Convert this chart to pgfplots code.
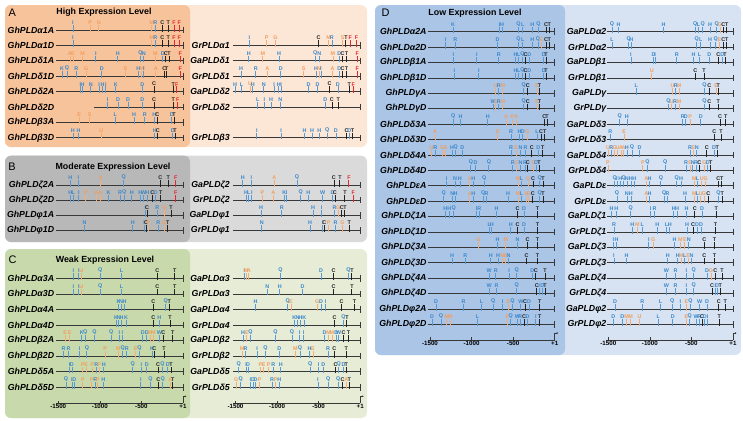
\documentclass[border=0pt]{standalone}
\usepackage{fontspec}
\setmainfont{Liberation Sans}
\usepackage{pgfplots}
\usepackage{pgfplotstable}
\pgfplotsset{compat=1.18}
\usetikzlibrary{arrows.meta}

\definecolor{blu}{HTML}{3A88CC}
\definecolor{orng}{HTML}{F29E5E}
\definecolor{blk}{HTML}{222222}
\definecolor{rd}{HTML}{E8262B}
\definecolor{Ad}{HTML}{F7C39B}\definecolor{Al}{HTML}{FCE6D5}
\definecolor{Bd}{HTML}{B8B8B8}\definecolor{Bl}{HTML}{DADADA}
\definecolor{Cd}{HTML}{C8DAAC}\definecolor{Cl}{HTML}{E6ECD6}
\definecolor{Dd}{HTML}{ABC5E6}\definecolor{Dl}{HTML}{D7E3F2}
\colorlet{lcA}{orng}\colorlet{lcB}{blu}\colorlet{lcC}{blk}\colorlet{lcD}{blu}\colorlet{lcE}{orng}
\colorlet{lcF}{rd}\colorlet{lcG}{orng}\colorlet{lcH}{blu}\colorlet{lcI}{blu}\colorlet{lcJ}{blu}
\colorlet{lcK}{blu}\colorlet{lcL}{blu}\colorlet{lcM}{orng}\colorlet{lcN}{blu}\colorlet{lcO}{blu}
\colorlet{lcP}{orng}\colorlet{lcQ}{blu}\colorlet{lcR}{blu}\colorlet{lcS}{orng}\colorlet{lcT}{blk}
\colorlet{lcU}{orng}\colorlet{lcV}{blu}\colorlet{lcW}{blu}\colorlet{lcX}{blu}\colorlet{lcY}{blu}\colorlet{lcZ}{blu}

\newcommand\glab{\fontsize{8.8}{9}\selectfont\bfseries\itshape}
\newcommand\ttl{\fontsize{8.9}{9}\selectfont\bfseries}
\newcommand\plab{\fontsize{11}{11}\selectfont}
\newcommand\tkfont{\fontsize{6.2}{6.2}\selectfont\bfseries}
\newcommand\elmfont{\fontsize{5.4}{5.4}\selectfont\bfseries}

\pgfdeclareplotmark{elm}{%
  \pgfsetlinewidth{0.85bp}%
  \pgfpathmoveto{\pgfpoint{0pt}{-1.6bp}}%
  \pgfpathlineto{\pgfpoint{0pt}{5.2bp}}%
  \pgfusepathqstroke
  \pgftext[bottom,at={\pgfpoint{0pt}{5.6bp}}]{\elmfont\color{lc\pgfplotspointmeta}\pgfplotspointmeta}%
}

\pgfplotsset{
  rowax/.style={scale only axis, width=124.7bp, xmin=-1500, xmax=0, y dir=reverse, clip=false,
    hide x axis, axis y line*=left, y axis line style={draw=none}, ytick style={draw=none},
    major tick length=0pt, yticklabel style={font=\glab, inner sep=0pt, anchor=east, xshift=-4bp},
    anchor=north west},
  gline/.style={black!78, line width=0.7bp, mark=none},
  gend/.style={only marks, mark=|, mark size=3.3bp, black!78, mark options={line width=0.7bp}},
  elms/.style={scatter, only marks, mark=elm, point meta=explicit symbolic,
    scatter/classes={A={orng!85},B={blu!85},C={blk},D={blu!85},E={orng!85},F={rd},G={orng!85},H={blu!85},I={blu!85},J={blu!85},K={blu!85},L={blu!85},M={orng!85},N={blu!85},O={blu!85},P={orng!85},Q={blu!85},R={blu!85},S={orng!85},T={blk},U={orng!85},V={blu!85},W={blu!85},X={blu!85},Y={blu!85},Z={blu!85}}},
  scaleax/.style={scale only axis, width=126.78bp, height=8bp, xmin=-1525, xmax=0, ymin=0, ymax=1,
    anchor=south west, clip=false, axis x line*=bottom, axis y line=none,
    x axis line style={-, black!78, line width=0.7bp},
    xtick={-1500,-1000,-500,0}, xticklabels={-1500,-1000,-500,+1}, tick align=inside,
    major tick length=2.8bp, xtick style={black!78, line width=0.55bp},
    xticklabel style={font=\tkfont, inner sep=0.8bp, text=black}},
}
\newcommand\gl[2]{\addplot[gline] coordinates {(#1,#2) (0,#2)};}
\newcommand\arr{\draw[black!78, line width=0.6bp, -{Stealth[length=1.6bp,width=1.8bp]}] (axis cs:0,0) -- ++(0bp,7bp) -- ++(3.5bp,0bp);}

% ---------------- data ----------------
\pgfplotstableread[row sep=\\]{x y l\\
-1324 1 I\\ -1116 1 P\\ -1012 1 G\\ -376 1 M\\ -332 1 R\\ -248 1 C\\ -176 1 T\\ -108 1 F\\ -44 1 F\\
-1324 2 I\\ -376 2 M\\ -332 2 R\\ -248 2 C\\ -176 2 T\\ -108 2 F\\ -44 2 F\\
-1360 3 A\\ -1324 3 E\\ -1208 3 M\\ -1048 3 I\\ -784 3 H\\ -512 3 Q\\ -472 3 N\\ -332 3 M\\ -244 3 D\\ -208 3 C\\ -168 3 T\\ -32 3 F\\
-1456 4 K\\ -1396 4 Q\\ -1284 4 R\\ -1164 4 G\\ -976 4 D\\ -692 4 S\\ -536 4 H\\ -496 4 M\\ -472 4 I\\ -328 4 A\\ -224 4 C\\ -196 4 T\\ -32 4 F\\
-1236 5 I\\ -1208 5 H\\ -1108 5 N\\ -1008 5 I\\ -968 5 H\\ -928 5 I\\ -808 5 K\\ -488 5 D\\ -348 5 C\\ -116 5 T\\ -76 5 F\\
-908 6 I\\ -780 6 D\\ -660 6 D\\ -488 6 D\\ -348 6 C\\ -116 6 T\\ -64 6 F\\
-1248 7 E\\ -1124 7 S\\ -816 7 L\\ -588 7 H\\ -460 7 R\\ -344 7 H\\ -308 7 C\\ -136 7 D\\ -108 7 T\\
-1324 8 H\\ -1256 8 H\\ -984 8 U\\ -340 8 H\\ -304 8 C\\ -124 8 D\\ -96 8 T\\
}\tAL
\pgfplotstableread[row sep=\\]{x y l\\
-1332 2 I\\ -1124 2 P\\ -1020 2 G\\ -500 2 C\\ -380 2 M\\ -340 2 R\\ -212 2 S\\ -172 2 T\\ -120 2 F\\ -44 2 F\\
-1340 3 H\\ -1172 3 M\\ -976 3 H\\ -540 3 Q\\ -492 3 N\\ -328 3 M\\ -252 3 D\\ -212 3 C\\ -164 3 T\\ -36 3 F\\
-1432 4 H\\ -1256 4 R\\ -1116 4 A\\ -956 4 D\\ -680 4 S\\ -532 4 H\\ -492 4 M\\ -472 4 I\\ -332 4 A\\ -252 4 D\\ -212 4 C\\ -164 4 T\\ -36 4 F\\
-1504 5 H\\ -1428 5 L\\ -1324 5 U\\ -1292 5 H\\ -1160 5 N\\ -1036 5 I\\ -980 5 H\\ -952 5 I\\ -620 5 D\\ -512 5 D\\ -368 5 C\\ -268 5 D\\ -132 5 T\\ -84 5 F\\
-1232 6 L\\ -1152 6 I\\ -1072 6 H\\ -960 6 N\\ -420 6 D\\ -340 6 C\\ -264 6 T\\
-1244 8 I\\ -952 8 I\\ -668 8 H\\ -580 8 H\\ -492 8 H\\ -396 8 Q\\ -292 8 D\\ -164 8 C\\ -132 8 D\\ -92 8 T\\
}\tAR
\pgfplotstableread[row sep=\\]{x y l\\
-1356 1 H\\ -1260 1 I\\ -988 1 A\\ -712 1 Q\\ -272 1 C\\ -176 1 T\\ -88 1 F\\
-1356 2 H\\ -1320 2 L\\ -1252 2 I\\ -1172 2 P\\ -1044 2 A\\ -996 2 A\\ -896 2 K\\ -756 2 R\\ -708 2 Q\\ -616 2 H\\ -512 2 H\\ -472 2 W\\ -428 2 H\\ -368 2 C\\ -328 2 D\\ -268 2 T\\ -88 2 F\\
-452 3 I\\ -432 3 C\\ -308 3 R\\ -220 3 G\\ -144 3 T\\
-1184 4 N\\ -604 4 H\\ -468 4 I\\ -444 4 C\\ -412 4 P\\ -296 4 R\\ -228 4 G\\ -184 4 T\\
}\tBL
\pgfplotstableread[row sep=\\]{x y l\\
-1412 1 H\\ -1308 1 I\\ -1032 1 A\\ -760 1 Q\\ -316 1 C\\ -244 1 T\\ -136 1 F\\
-1372 2 H\\ -1340 2 L\\ -1304 2 I\\ -1176 2 P\\ -1044 2 A\\ -912 2 K\\ -884 2 I\\ -716 2 Q\\ -624 2 H\\ -452 2 W\\ -332 2 D\\ -304 2 C\\ -184 2 T\\ -84 2 F\\
-1192 3 H\\ -944 3 R\\ -568 3 H\\ -464 3 I\\ -308 3 R\\ -264 3 G\\ -220 3 C\\ -184 3 T\\
-1184 4 N\\ -604 4 H\\ -452 4 I\\ -432 4 C\\ -380 4 P\\ -296 4 R\\ -212 4 G\\ -132 4 T\\
}\tBR
\pgfplotstableread[row sep=\\]{x y l\\
-1320 1 I\\ -1252 1 I\\ -1224 1 U\\ -996 1 Q\\ -740 1 L\\ -308 1 C\\ -100 1 T\\
-1320 2 I\\ -1252 2 I\\ -1224 2 U\\ -996 2 Q\\ -740 2 L\\ -308 2 C\\ -100 2 T\\
-776 3 K\\ -744 3 N\\ -704 3 H\\ -356 3 C\\ -208 3 Q\\ -164 3 T\\
-804 4 K\\ -772 4 N\\ -740 4 H\\ -684 4 K\\ -356 4 C\\ -284 4 H\\ -156 4 T\\
-1416 5 E\\ -1364 5 E\\ -1216 5 K\\ -1176 5 Q\\ -1064 5 Q\\ -864 5 Q\\ -764 5 I\\ -728 5 I\\ -484 5 D\\ -436 5 D\\ -396 5 M\\ -356 5 M\\ -284 5 W\\ -236 5 C\\ -124 5 T\\
-1436 6 R\\ -1376 6 R\\ -1244 6 I\\ -1156 6 Q\\ -936 6 P\\ -776 6 M\\ -724 6 Q\\ -676 6 R\\ -568 6 E\\ -524 6 Q\\ -372 6 K\\ -344 6 C\\ -228 6 T\\
-1364 7 I\\ -1336 7 D\\ -1208 7 P\\ -1164 7 E\\ -1092 7 P\\ -1044 7 R\\ -1008 7 P\\ -952 7 H\\ -604 7 Q\\ -500 7 I\\ -436 7 D\\ -300 7 C\\ -248 7 Q\\ -184 7 D\\ -144 7 T\\
-1408 8 Q\\ -1336 8 I\\ -1308 8 D\\ -1204 8 P\\ -1096 8 P\\ -1056 8 R\\ -1024 8 P\\ -960 8 H\\ -508 8 I\\ -392 8 Q\\ -296 8 C\\ -244 8 Q\\ -152 8 A\\ -124 8 T\\
}\tCL
\pgfplotstableread[row sep=\\]{x y l\\
-1392 1 I\\ -1372 1 M\\ -1340 1 A\\ -960 1 Q\\ -472 1 D\\ -320 1 C\\ -140 1 Q\\ -100 1 T\\
-1116 2 N\\ -968 2 H\\ -692 2 D\\ -320 2 C\\ -100 2 T\\
-1260 3 H\\ -872 3 Q\\ -832 3 E\\ -516 3 G\\ -472 3 D\\ -416 3 I\\ -224 3 C\\ -68 3 T\\
-792 4 K\\ -752 4 N\\ -716 4 H\\ -672 4 K\\ -308 4 C\\ -200 4 Q\\ -160 4 T\\
-1408 5 H\\ -1364 5 E\\ -1320 5 Q\\ -1020 5 Q\\ -820 5 Q\\ -728 5 I\\ -680 5 I\\ -428 5 D\\ -380 5 M\\ -340 5 M\\ -288 5 D\\ -260 5 W\\ -200 5 C\\ -140 5 T\\
-1420 6 M\\ -1380 6 R\\ -1240 6 I\\ -1140 6 Q\\ -972 6 D\\ -780 6 M\\ -724 6 Q\\ -608 6 H\\ -568 6 E\\ -388 6 R\\ -312 6 C\\ -168 6 T\\
-1460 7 Q\\ -1372 7 I\\ -1348 7 D\\ -1200 7 P\\ -1160 7 E\\ -1100 7 P\\ -1044 7 R\\ -956 7 H\\ -600 7 Q\\ -500 7 I\\ -444 7 D\\ -296 7 C\\ -260 7 Q\\ -200 7 D\\ -168 7 T\\
-1492 8 G\\ -1436 8 Q\\ -1320 8 I\\ -1288 8 D\\ -1260 8 D\\ -1208 8 P\\ -1060 8 R\\ -1016 8 P\\ -972 8 H\\ -508 8 I\\ -384 8 Q\\ -264 8 Q\\ -212 8 C\\ -168 8 A\\ -132 8 T\\
}\tCR
\pgfplotstableread[row sep=\\]{x y l\\
-1224 1 K\\ -664 1 I\\ -632 1 H\\ -436 1 Q\\ -384 1 L\\ -268 1 H\\ -196 1 Q\\ -104 1 C\\ -64 1 T\\
-1312 2 I\\ -1196 2 R\\ -688 2 D\\ -436 2 Q\\ -384 2 L\\ -268 2 H\\ -200 2 Q\\ -164 2 E\\ -104 2 C\\ -64 2 T\\
-1220 3 I\\ -936 3 I\\ -672 3 R\\ -472 3 H\\ -432 3 L\\ -388 3 Q\\ -352 3 C\\ -304 3 D\\ -132 3 D\\ -104 3 T\\
-1208 4 I\\ -912 4 I\\ -472 4 H\\ -432 4 L\\ -388 4 Q\\ -352 4 C\\ -304 4 D\\ -132 4 D\\ -104 4 T\\
-712 5 U\\ -672 5 R\\ -624 5 M\\ -372 5 Q\\ -324 5 C\\ -212 5 E\\ -184 5 T\\
-740 6 W\\ -708 6 U\\ -672 6 R\\ -624 6 M\\ -372 6 Q\\ -324 6 C\\ -212 6 E\\ -184 6 T\\
-1220 7 Q\\ -1132 7 H\\ -804 7 H\\ -584 7 A\\ -512 7 P\\ -464 7 A\\ -124 7 C\\ -92 7 T\\
-1440 8 A\\ -684 8 E\\ -524 8 R\\ -424 8 H\\ -384 8 D\\ -332 8 G\\ -212 8 L\\ -164 8 C\\ -120 8 T\\
-1480 9 U\\ -1436 9 R\\ -1352 9 G\\ -1312 9 A\\ -1236 9 H\\ -1192 9 Q\\ -1112 9 D\\ -524 9 R\\ -464 9 E\\ -412 9 N\\ -352 9 R\\ -276 9 C\\ -196 9 D\\ -144 9 T\\
-1008 10 Q\\ -952 10 D\\ -792 10 Q\\ -504 10 R\\ -456 10 E\\ -412 10 N\\ -356 10 R\\ -324 10 C\\ -256 10 G\\ -224 10 D\\ -188 10 T\\
-1300 11 I\\ -1200 11 N\\ -1140 11 H\\ -1020 11 A\\ -980 11 H\\ -848 11 Q\\ -440 11 M\\ -400 11 L\\ -320 11 U\\ -260 11 C\\ -180 11 Q\\ -140 11 T\\
-1336 12 Q\\ -1232 12 N\\ -1192 12 H\\ -1020 12 A\\ -980 12 H\\ -860 12 Q\\ -820 12 R\\ -560 12 H\\ -440 12 M\\ -400 12 L\\ -340 12 U\\ -312 12 G\\ -264 12 C\\ -180 12 Q\\ -140 12 T\\
-1316 13 H\\ -1268 13 H\\ -1216 13 Q\\ -940 13 I\\ -908 13 R\\ -700 13 H\\ -448 13 C\\ -368 13 D\\ -208 13 T\\
-788 14 L\\ -756 14 H\\ -528 14 H\\ -448 14 C\\ -368 14 D\\ -208 14 T\\
-916 15 G\\ -688 15 H\\ -588 15 M\\ -448 15 N\\ -328 15 C\\ -208 15 T\\
-1236 16 H\\ -1076 16 R\\ -768 16 H\\ -680 16 H\\ -628 16 M\\ -588 16 E\\ -556 16 N\\ -340 16 C\\ -208 16 T\\
-788 17 W\\ -708 17 R\\ -548 17 I\\ -456 17 Q\\ -268 17 D\\ -228 17 C\\ -116 17 T\\
-788 18 W\\ -700 18 R\\ -456 18 Q\\ -216 18 C\\ -188 18 I\\ -148 18 D\\ -116 18 T\\
-1428 19 D\\ -1096 19 R\\ -880 19 L\\ -740 19 Q\\ -628 19 I\\ -556 19 E\\ -508 19 Q\\ -408 19 W\\ -356 19 C\\ -308 19 D\\ -180 19 T\\
-1476 20 D\\ -1368 20 Q\\ -1300 20 M\\ -1256 20 M\\ -928 20 L\\ -568 20 E\\ -528 20 Q\\ -448 20 W\\ -416 20 R\\ -368 20 C\\ -328 20 D\\ -228 20 I\\ -180 20 T\\
}\tDL
\pgfplotstableread[row sep=\\]{x y l\\
-1456 1 Q\\ -1376 1 H\\ -836 1 H\\ -456 1 Q\\ -416 1 L\\ -364 1 Q\\ -276 1 H\\ -196 1 Q\\ -156 1 G\\ -116 1 C\\ -76 1 T\\
-1456 2 L\\ -1256 2 Q\\ -1224 2 H\\ -436 2 Q\\ -388 2 L\\ -276 2 H\\ -208 2 Q\\ -164 2 E\\ -116 2 C\\ -76 2 T\\
-1228 3 I\\ -956 3 D\\ -936 3 I\\ -676 3 R\\ -476 3 H\\ -404 3 L\\ -284 3 D\\ -176 3 C\\ -128 3 D\\ -96 3 T\\
-976 4 U\\ -452 4 C\\ -348 4 T\\
-1164 5 L\\ -728 5 U\\ -688 5 R\\ -648 5 M\\ -344 5 Q\\ -284 5 C\\ -204 5 E\\ -176 5 T\\
-776 6 Q\\ -736 6 U\\ -696 6 R\\ -648 6 M\\ -344 6 Q\\ -284 6 C\\ -176 6 T\\
-1364 7 Q\\ -1276 7 H\\ -604 7 R\\ -568 7 D\\ -516 7 P\\ -388 7 D\\ -156 7 C\\ -88 7 T\\
-1476 8 R\\ -1308 8 E\\ -224 8 C\\ -144 8 T\\
-1504 9 U\\ -1464 9 R\\ -1424 9 G\\ -1388 9 U\\ -1348 9 A\\ -1316 9 A\\ -1276 9 H\\ -1216 9 Q\\ -1124 9 D\\ -516 9 R\\ -476 9 E\\ -436 9 N\\ -316 9 C\\ -228 9 D\\ -188 9 T\\
-1504 10 P\\ -1084 10 P\\ -1028 10 Q\\ -816 10 Q\\ -564 10 R\\ -516 10 E\\ -484 10 N\\ -444 10 R\\ -404 10 C\\ -344 10 G\\ -304 10 D\\ -268 10 T\\
-1424 11 Q\\ -1396 11 I\\ -1356 11 H\\ -1316 11 Q\\ -1276 11 N\\ -1228 11 H\\ -1188 11 H\\ -1044 11 A\\ -1004 11 H\\ -868 11 Q\\ -676 11 Q\\ -624 11 H\\ -468 11 M\\ -428 11 L\\ -376 11 U\\ -328 11 G\\ -176 11 C\\ -136 11 T\\
-1396 12 Q\\ -1276 12 N\\ -1228 12 H\\ -1044 12 A\\ -1004 12 H\\ -828 12 Q\\ -788 12 R\\ -576 12 H\\ -464 12 M\\ -428 12 L\\ -388 12 U\\ -348 12 G\\ -296 12 C\\ -176 12 Q\\ -128 12 T\\
-1460 13 H\\ -1404 13 H\\ -1232 13 Q\\ -992 13 I\\ -944 13 R\\ -712 13 H\\ -672 13 H\\ -560 13 H\\ -460 13 C\\ -372 13 D\\ -200 13 T\\
-1432 14 R\\ -1212 14 H\\ -1152 14 M\\ -1092 14 L\\ -912 14 H\\ -800 14 L\\ -760 14 H\\ -552 14 H\\ -480 14 C\\ -432 14 D\\ -384 14 D\\ -212 14 T\\
-1440 15 I\\ -1400 15 H\\ -1012 15 I\\ -960 15 G\\ -704 15 H\\ -632 15 M\\ -580 15 E\\ -532 15 N\\ -344 15 C\\ -224 15 T\\
-1432 16 I\\ -1280 16 H\\ -784 16 H\\ -664 16 H\\ -624 16 M\\ -580 16 L\\ -540 16 E\\ -500 16 N\\ -344 16 C\\ -224 16 T\\
-800 17 W\\ -692 17 R\\ -560 17 I\\ -472 17 Q\\ -312 17 D\\ -264 17 G\\ -212 17 C\\ -132 17 T\\
-800 18 W\\ -692 18 R\\ -560 18 I\\ -472 18 Q\\ -252 18 C\\ -212 18 I\\ -192 18 D\\ -152 18 T\\
-1420 19 D\\ -1092 19 R\\ -872 19 L\\ -732 19 Q\\ -632 19 I\\ -560 19 E\\ -512 19 Q\\ -400 19 W\\ -312 19 D\\ -172 19 C\\ -92 19 T\\
-1440 20 D\\ -1332 20 D\\ -1280 20 M\\ -1232 20 M\\ -1124 20 U\\ -900 20 L\\ -724 20 D\\ -560 20 E\\ -520 20 Q\\ -444 20 W\\ -404 20 R\\ -372 20 C\\ -340 20 D\\ -304 20 I\\ -164 20 T\\
}\tDR

\begin{document}
\begin{tikzpicture}[x=1bp,y=1bp]
\useasboundingbox (0,0) rectangle (743,-420);
% panel backgrounds
\fill[Al, rounded corners=6bp] (5,-5) rectangle (367,-147);
\fill[Ad, rounded corners=6bp] (5,-5) rectangle (190,-147);
\fill[Bl, rounded corners=6bp] (5,-155.7) rectangle (367,-242);
\fill[Bd, rounded corners=6bp] (5,-155.7) rectangle (190,-242);
\fill[Cl, rounded corners=6bp] (5,-249) rectangle (367,-418);
\fill[Cd, rounded corners=6bp] (5,-249) rectangle (190,-418);
\fill[Dl, rounded corners=6bp] (375,-5) rectangle (741,-355);
\fill[Dd, rounded corners=6bp] (375,-5) rectangle (565,-355);
% panel letters and titles
\node[font=\plab] at (12.3,-12.5) {A};
\node[font=\plab] at (12,-167) {B};
\node[font=\plab] at (12.7,-260) {C};
\node[font=\plab] at (385.7,-12.5) {D};
\node[font=\ttl] at (104,-12.3) {High Expression Level};
\node[font=\ttl] at (113,-167.3) {Moderate Expression Level};
\node[font=\ttl] at (105,-260) {Weak Expression Level};
\node[font=\ttl] at (475,-13) {Low Expression Level};

% ---- A left
\begin{axis}[rowax, at={(58.3bp,-22.3bp)}, height=123.2bp, ymin=0.5, ymax=8.5,
  ytick={1,...,8}, yticklabels={GhPLDα1A,GhPLDα1D,GhPLDδ1A,GhPLDδ1D,GhPLDδ2A,GhPLDδ2D,GhPLDβ3A,GhPLDβ3D}]
\gl{-1525}{1}\gl{-1525}{2}\gl{-1525}{3}\gl{-1525}{4}\gl{-1525}{5}\gl{-1076}{6}\gl{-1525}{7}\gl{-1525}{8}
\addplot[gend] coordinates {(0,1)(0,2)(0,3)(0,4)(0,5)(0,6)(0,7)(0,8)};
\addplot[elms] table[x=x,y=y,meta=l]{\tAL};
\end{axis}
% ---- A right
\begin{axis}[rowax, at={(235.5bp,-22.3bp)}, height=123.2bp, ymin=0.5, ymax=8.5,
  yticklabel style={xshift=-1.5bp},
  ytick={2,3,4,5,6,8}, yticklabels={GrPLDα1,GaPLDδ1,GrPLDδ1,GaPLDδ2,GrPLDδ2,GrPLDβ3}]
\gl{-1525}{2}\gl{-1525}{3}\gl{-1525}{4}\gl{-1525}{5}\gl{-1525}{6}\gl{-1525}{8}
\addplot[gend] coordinates {(0,2)(0,3)(0,4)(0,5)(0,6)(0,8)};
\addplot[elms] table[x=x,y=y,meta=l]{\tAR};
\end{axis}
% ---- B left
\begin{axis}[rowax, at={(58.3bp,-177.45bp)}, height=60.4bp, ymin=0.5, ymax=4.5,
  ytick={1,...,4}, yticklabels={GhPLDζ2A,GhPLDζ2D,GhPLDφ1A,GhPLDφ1D}]
\gl{-1525}{1}\gl{-1525}{2}\gl{-1525}{3}\gl{-1525}{4}
\addplot[gend] coordinates {(0,1)(0,2)(0,3)(0,4)};
\addplot[elms] table[x=x,y=y,meta=l]{\tBL};
\end{axis}
% ---- B right
\begin{axis}[rowax, at={(235.5bp,-177.45bp)}, height=60.4bp, ymin=0.5, ymax=4.5,
  yticklabel style={xshift=-1.5bp},
  ytick={1,...,4}, yticklabels={GaPLDζ2,GrPLDζ2,GaPLDφ1,GrPLDφ1}]
\gl{-1525}{1}\gl{-1525}{2}\gl{-1525}{3}\gl{-1525}{4}
\addplot[gend] coordinates {(0,1)(0,2)(0,3)(0,4)};
\addplot[elms] table[x=x,y=y,meta=l]{\tBR};
\end{axis}
% ---- C left
\begin{axis}[rowax, at={(58.3bp,-270.5bp)}, height=124.56bp, ymin=0.5, ymax=8.5,
  ytick={1,...,8}, yticklabels={GhPLDα3A,GhPLDα3D,GhPLDα4A,GhPLDα4D,GhPLDβ2A,GhPLDβ2D,GhPLDδ5A,GhPLDδ5D}]
\gl{-1525}{1}\gl{-1525}{2}\gl{-1525}{3}\gl{-1525}{4}\gl{-1525}{5}\gl{-1525}{6}\gl{-1525}{7}\gl{-1525}{8}
\addplot[gend] coordinates {(0,1)(0,2)(0,3)(0,4)(0,5)(0,6)(0,7)(0,8)};
\addplot[elms] table[x=x,y=y,meta=l]{\tCL};
\end{axis}
% ---- C right
\begin{axis}[rowax, at={(235.5bp,-270.5bp)}, height=124.56bp, ymin=0.5, ymax=8.5,
  yticklabel style={xshift=-1.5bp},
  ytick={1,...,8}, yticklabels={GaPLDα3,GrPLDα3,GaPLDα4,GrPLDα4,GaPLDβ2,GrPLDβ2,GaPLDδ5,GrPLDδ5}]
\gl{-1525}{1}\gl{-1525}{2}\gl{-1525}{3}\gl{-1525}{4}\gl{-1525}{5}\gl{-1525}{6}\gl{-1525}{7}\gl{-1525}{8}
\addplot[gend] coordinates {(0,1)(0,2)(0,3)(0,4)(0,5)(0,6)(0,7)(0,8)};
\addplot[elms] table[x=x,y=y,meta=l]{\tCR};
\end{axis}
% ---- C scales
\begin{axis}[scaleax, at={(56.2bp,-403.3bp)}] \arr \end{axis}
\begin{axis}[scaleax, at={(233.4bp,-403.3bp)}] \arr \end{axis}
% ---- D left
\begin{axis}[rowax, at={(430bp,-24bp)}, height=308bp, ymin=0.5, ymax=20.5,
  yticklabel style={xshift=0.7bp},
  ytick={1,...,20}, yticklabels={GhPLDα2A,GhPLDα2D,GhPLDβ1A,GhPLDβ1D,GhPLDγA,GhPLDγD,GhPLDδ3A,GhPLDδ3D,GhPLDδ4A,GhPLDδ4D,GhPLDεA,GhPLDεD,GhPLDζ1A,GhPLDζ1D,GhPLDζ3A,GhPLDζ3D,GhPLDζ4A,GhPLDζ4D,GhPLDφ2A,GhPLDφ2D}]
\gl{-1525}{1}\gl{-1525}{2}\gl{-1525}{3}\gl{-1525}{4}\gl{-1525}{5}\gl{-1525}{6}\gl{-1525}{7}\gl{-1525}{8}\gl{-1525}{9}\gl{-1525}{10}
\gl{-1525}{11}\gl{-1525}{12}\gl{-1525}{13}\gl{-1525}{14}\gl{-1525}{15}\gl{-1525}{16}\gl{-1525}{17}\gl{-1525}{18}\gl{-1525}{19}\gl{-1525}{20}
\addplot[gend] coordinates {(0,1)(0,2)(0,3)(0,4)(0,5)(0,6)(0,7)(0,8)(0,9)(0,10)(0,11)(0,12)(0,13)(0,14)(0,15)(0,16)(0,17)(0,18)(0,19)(0,20)};
\addplot[elms] table[x=x,y=y,meta=l]{\tDL};
\end{axis}
% ---- D right
\begin{axis}[rowax, at={(608.3bp,-24bp)}, height=308bp, ymin=0.5, ymax=20.5,
  yticklabel style={xshift=2.2bp},
  ytick={1,...,20}, yticklabels={GaPLDα2,GrPLDα2,GaPLDβ1,GrPLDβ1,GaPLDγ,GrPLDγ,GaPLDδ3,GrPLDδ3,GaPLDδ4,GrPLDδ4,GaPLDε,GrPLDε,GaPLDζ1,GrPLDζ1,GaPLDζ3,GrPLDζ3,GaPLDζ4,GrPLDζ4,GaPLDφ2,GrPLDφ2}]
\gl{-1520}{1}\gl{-1520}{2}\gl{-1520}{3}\gl{-1520}{4}\gl{-1520}{5}\gl{-1520}{6}\gl{-1520}{7}\gl{-1520}{8}\gl{-1520}{9}\gl{-1520}{10}
\gl{-1520}{11}\gl{-1520}{12}\gl{-1520}{13}\gl{-1520}{14}\gl{-1520}{15}\gl{-1520}{16}\gl{-1520}{17}\gl{-1520}{18}\gl{-1520}{19}\gl{-1520}{20}
\addplot[gend] coordinates {(0,1)(0,2)(0,3)(0,4)(0,5)(0,6)(0,7)(0,8)(0,9)(0,10)(0,11)(0,12)(0,13)(0,14)(0,15)(0,16)(0,17)(0,18)(0,19)(0,20)};
\addplot[elms] table[x=x,y=y,meta=l]{\tDR};
\end{axis}
% ---- D scales
\begin{axis}[scaleax, at={(427.9bp,-340bp)}] \arr \end{axis}
\begin{axis}[scaleax, at={(606.2bp,-340bp)}] \arr \end{axis}
\end{tikzpicture}
\end{document}
